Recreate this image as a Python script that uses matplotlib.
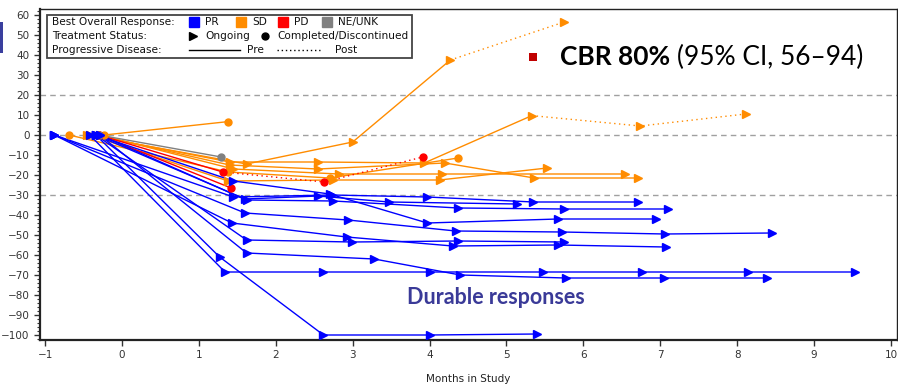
import matplotlib.pyplot as plt
from matplotlib.lines import Line2D
from matplotlib.patches import Rectangle
from matplotlib.ticker import MultipleLocator

# best overall response, treatment status and visit data per patient
resp = ["PR"] * 10 + ["SD"] * 7 + ["PD", "PD", "NE/UNK"]
status = ["Ongoing"] * 10 + ["Completed", "Completed"] + ["Ongoing"] * 5 + ["Completed"] * 3

months = [
    [-0.88, 1.45, 2.73, 3.97, 5.35, 6.71],
    [-0.34, 1.60, 2.55, 3.47, 5.14],
    [-0.29, 1.62, 2.75, 4.37, 5.75, 7.10],
    [-0.34, 1.45, 2.70, 3.97, 5.67, 6.94],
    [-0.88, 1.60, 2.94, 4.34, 5.72, 7.06, 8.45],
    [-0.88, 1.43, 2.92, 4.30, 5.67, 7.07],
    [-0.34, 1.62, 2.99, 4.37, 5.75],
    [-0.29, 1.62, 3.28, 4.40, 5.77, 7.05, 8.39],
    [-0.42, 1.34, 2.62, 4.00, 5.47, 6.76, 8.14, 9.53],
    [-0.34, 1.27, 2.62, 4.00, 5.40],
    [-0.23, 1.38],
    [-0.69, 1.38, 2.70, 4.37],
    [-0.46, 1.62, 3.00, 4.27, 5.75],
    [-0.42, 1.40, 2.55, 3.93, 5.33, 6.74, 8.11],
    [-0.34, 1.40, 2.55, 4.20, 5.36, 6.71],
    [-0.29, 1.45, 2.82, 4.16, 6.54],
    [-0.42, 1.38, 2.74, 4.13, 5.53],
    [-0.30, 1.31, 2.63, 3.91],
    [-0.30, 1.42],
    [-0.30, 1.29],
]
change = [
    [0, -31, -30, -31, -33.5, -33.5],
    [0, -32, -30.5, -33.5, -34.5],
    [0, -32.5, -33, -36.5, -37, -37],
    [0, -23, -29.5, -44, -42, -42],
    [0, -39, -42.5, -48, -48.5, -49.5, -49],
    [0, -44, -51, -55.5, -55, -56],
    [0, -52.5, -53.5, -53, -53.5],
    [0, -59, -62, -70, -71.5, -71.5, -71.5],
    [0, -68.5, -68.5, -68.5, -68.5, -68.5, -68.5, -68.5],
    [0, -61, -100, -100, -99.5],
    [0, 6.7],
    [0, -18.5, -21.5, -11.5],
    [0, -14.5, -3.5, 37.5, 56.5],
    [0, -13.5, -13.5, -14, 9.7, 4.5, 10.5],
    [0, -15, -17, -14, -21.5, -21.5],
    [0, -17, -19.5, -19.5, -19.5],
    [0, -23, -22.5, -22.5, -16.5],
    [0, -18.5, -23.5, -11],
    [0, -26.5],
    [0, -11],
]
# index of the visit where progression was seen (later segments are post-PD)
pd_visit = [None] * 12 + [3, 4, None, None, None, 1, None, None]

colors = {"PR": "#0000ff", "SD": "#ff8c00", "PD": "#ff0000", "NE/UNK": "#808080"}
markers = {"Ongoing": ">", "Completed": "o"}

W, H = 898, 385
fig = plt.figure(figsize=(W / 100, H / 100), dpi=100)
ax = fig.add_axes([40 / W, 1 - 340 / H, (897 - 40) / W, (340 - 9) / H])

for y in (20, 0, -30):
    ax.axhline(y, color="#a0a0a0", lw=1, ls=(0, (4, 3)), zorder=1)

order = list(range(10, 20)) + list(range(10))
for i in order:
    c = colors[resp[i]]
    mk = markers[status[i]]
    x, y = months[i], change[i]
    k = pd_visit[i] if pd_visit[i] is not None else len(x) - 1
    ax.plot(x[:k + 1], y[:k + 1], color=c, lw=1, zorder=2)
    if k < len(x) - 1:
        ax.plot(x[k:], y[k:], color=c, lw=1, ls=(0, (1, 2.5)), zorder=2)
    ax.plot(x, y, ls="none", marker=mk, ms=5.5 if mk == ">" else 5,
            color=c, mec=c, zorder=3)

ax.set_xlim(-1.066, 10.078)
ax.set_ylim(-102.5, 63)
ax.set_xticks(range(-1, 11))
ax.set_yticks(range(-100, 61, 10))
ax.yaxis.set_minor_locator(MultipleLocator(2))
ax.tick_params(axis="both", labelsize=7.5, colors="#333333", length=4, width=1)
ax.tick_params(axis="y", which="minor", length=2, width=0.8, colors="#333333")
for s in ax.spines.values():
    s.set_color("#222222")
    s.set_linewidth(1)
ax.spines["left"].set_linewidth(1.6)
ax.spines["bottom"].set_linewidth(1.6)
ax.set_xlabel("Months in Study", fontsize=7.5, color="#222222", labelpad=10)


def fx(px):
    return px / W


def fy(py):
    return 1 - py / H


# legend block
fig.add_artist(Rectangle((fx(47), fy(58)), fx(412) - fx(47), fy(15) - fy(58),
                         transform=fig.transFigure, fill=True, fc="white",
                         ec="#444444", lw=1.3, zorder=5))
lt = dict(fontsize=7.6, color="#111111", va="center", zorder=6)
rows = [22, 36, 50]
fig.text(fx(52), fy(rows[0]), "Best Overall Response:", **lt)
fig.text(fx(52), fy(rows[1]), "Treatment Status:", **lt)
fig.text(fx(52), fy(rows[2]), "Progressive Disease:", **lt)
for px, name in [(194, "PR"), (241, "SD"), (283, "PD"), (327, "NE/UNK")]:
    fig.add_artist(Line2D([fx(px)], [fy(rows[0])], marker="s", ms=7, color=colors[name],
                          transform=fig.transFigure, zorder=6))
    fig.text(fx(px + 11), fy(rows[0]), name, **lt)
fig.add_artist(Line2D([fx(193)], [fy(rows[1])], marker=">", ms=6, color="black",
                      transform=fig.transFigure, zorder=6))
fig.text(fx(205), fy(rows[1]), "Ongoing", **lt)
fig.add_artist(Line2D([fx(265)], [fy(rows[1])], marker="o", ms=5, color="black",
                      transform=fig.transFigure, zorder=6))
fig.text(fx(277), fy(rows[1]), "Completed/Discontinued", **lt)
fig.add_artist(Line2D([fx(189), fx(240)], [fy(rows[2])] * 2, color="black", lw=1,
                      transform=fig.transFigure, zorder=6))
fig.text(fx(247), fy(rows[2]), "Pre", **lt)
fig.add_artist(Line2D([fx(277), fx(320)], [fy(rows[2])] * 2, color="black", lw=1,
                      ls=(0, (1, 2)), transform=fig.transFigure, zorder=6))
fig.text(fx(335), fy(rows[2]), "Post", **lt)

# annotations
fig.add_artist(Rectangle((fx(529), fy(61)), 8 / W, 8 / H, transform=fig.transFigure,
                         fc="#c00000", ec="none", zorder=6))
fig.text(fx(560), fy(57), "CBR 80%", fontsize=19, fontweight="bold",
         family=["Lato", "DejaVu Sans"], va="center", color="black")
fig.text(fx(677), fy(57), "(95% CI, 56\u201394)", fontsize=19,
         family=["Lato", "DejaVu Sans"], va="center", color="black")
fig.text(fx(496), fy(297), "Durable responses", fontsize=15.5, fontweight="bold",
         family=["Lato", "DejaVu Sans"], ha="center", va="center", color="#3a3a98")

fig.add_artist(Rectangle((0, fy(53)), 3 / W, 31 / H, transform=fig.transFigure,
                         fc="#3a3f9e", ec="none"))

fig.savefig("out.png", dpi=100)
